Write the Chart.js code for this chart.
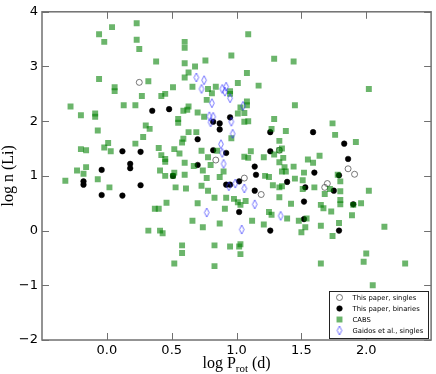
<!DOCTYPE html>
<html>
<head>
<meta charset="utf-8">
<script src="https://cdn.jsdelivr.net/npm/chart.js@4.4.0/dist/chart.umd.min.js"></script>
<style>
  html, body { margin: 0; padding: 0; background: #fff; }
  #wrap { width: 436px; height: 374px; }
</style>
</head>
<body>
<div id="wrap"><canvas id="liChart" width="436" height="374"></canvas></div>
<script>
// log P_rot (d), log n(Li) pairs
const singles = [
    [0.25, 2.71], [0.84, 1.29], [1.06, 0.96], [1.19, 0.66], [1.33, 1.47],
    [1.86, 1.13], [1.91, 1.03], [1.70, 0.86], [1.68, 0.79]
];

const binaries = [
    [0.35, 2.19], [0.48, 2.22], [0.82, 1.99], [0.87, 1.96], [0.87, 1.85], [0.95, 2.07],
    [0.70, 1.67], [0.82, 1.47], [0.92, 1.42], [0.70, 1.20], [1.14, 1.17], [1.15, 1.02],
    [0.92, 0.84], [0.95, 0.84], [1.14, 0.73], [1.02, 0.90], [1.02, 0.34], [1.26, 1.80],
    [1.26, 1.45], [1.39, 0.89], [1.53, 0.79], [1.52, 0.53], [1.52, 0.21], [1.59, 1.80],
    [1.83, 1.59], [1.86, 1.31], [1.60, 1.06], [1.79, 1.01], [1.75, 0.73], [1.90, 0.48],
    [1.26, 0.00], [1.79, 0.00], [0.12, 1.45], [0.26, 1.44], [0.18, 1.22], [0.18, 1.14],
    [-0.04, 1.11], [-0.18, 0.90], [-0.18, 0.84], [0.26, 0.83], [-0.04, 0.65], [0.12, 0.64],
    [0.51, 1.00]
];

const cabs = [
    [0.04, 3.72], [0.23, 3.79], [-0.06, 3.59], [-0.02, 3.45], [0.23, 3.49], [0.25, 3.32],
    [0.38, 3.09], [-0.06, 2.77], [0.06, 2.62], [0.06, 2.55], [0.32, 2.73], [0.51, 2.62],
    [0.27, 2.46], [0.42, 2.46], [0.45, 2.50], [-0.28, 2.27], [-0.20, 2.11], [-0.09, 2.14],
    [-0.09, 2.08], [0.13, 2.29], [0.22, 2.29], [0.55, 2.04], [0.55, 1.97], [1.09, 3.59],
    [0.60, 3.45], [0.60, 3.34], [0.96, 3.20], [0.76, 3.11], [1.29, 3.14], [1.44, 3.09],
    [0.60, 3.06], [0.68, 3.00], [0.63, 2.89], [1.08, 2.88], [0.60, 2.80], [0.66, 2.63],
    [0.84, 2.63], [0.78, 2.59], [0.81, 2.51], [1.01, 2.70], [1.17, 2.65], [0.95, 2.55],
    [0.95, 2.50], [0.77, 2.39], [1.08, 2.36], [1.08, 2.29], [1.45, 2.29], [0.63, 2.27],
    [0.62, 2.21], [0.59, 2.19], [0.70, 2.16], [0.75, 2.08], [1.03, 2.25], [1.01, 2.14],
    [1.06, 2.15], [1.29, 2.04], [1.09, 2.00], [1.06, 1.99], [2.02, 2.59], [-0.07, 1.83],
    [0.30, 1.92], [0.33, 1.86], [0.28, 1.71], [0.22, 1.59], [0.01, 1.60], [-0.02, 1.52],
    [0.03, 1.45], [-0.20, 1.49], [-0.16, 1.47], [0.40, 1.51], [0.52, 1.49], [0.42, 1.38],
    [0.45, 1.31], [0.45, 1.26], [0.56, 1.41], [-0.16, 1.16], [-0.23, 1.10], [-0.18, 1.04],
    [0.41, 1.10], [0.45, 1.00], [0.52, 1.06], [0.51, 1.00], [-0.32, 0.91], [-0.07, 0.94],
    [0.02, 0.79], [0.53, 0.79], [0.46, 0.51], [0.37, 0.40], [0.40, 0.40], [0.63, 1.80],
    [0.69, 1.80], [0.59, 1.68], [0.58, 1.61], [0.73, 1.46], [0.78, 1.34], [0.85, 1.46],
    [0.96, 1.69], [1.11, 1.45], [1.06, 1.35], [1.09, 1.33], [0.60, 1.24], [0.67, 1.18],
    [0.74, 1.10], [0.80, 1.20], [0.90, 1.08], [0.60, 1.02], [0.77, 0.96], [0.87, 0.98],
    [0.61, 0.77], [0.73, 0.82], [0.78, 0.73], [0.83, 0.60], [0.92, 0.60], [0.98, 0.58],
    [1.01, 0.52], [1.03, 0.47], [1.07, 0.54], [0.70, 0.50], [0.91, 0.40], [0.66, 0.18],
    [0.87, 0.13], [1.21, 1.34], [1.29, 1.39], [1.33, 1.47], [1.35, 1.50], [1.38, 1.82],
    [1.33, 1.64], [1.27, 1.86], [1.36, 1.33], [1.33, 1.25], [1.37, 1.16], [1.44, 1.17],
    [1.35, 1.08], [1.38, 1.08], [1.45, 0.95], [1.22, 1.00], [1.25, 0.98], [1.28, 0.83],
    [1.33, 0.79], [1.35, 0.81], [1.33, 0.61], [1.42, 0.49], [1.55, 1.30], [1.52, 1.06],
    [1.25, 0.34], [1.27, 0.29], [1.39, 0.22], [1.48, 0.18], [1.21, 0.11], [1.74, 1.96],
    [1.76, 1.75], [1.92, 1.62], [1.59, 1.24], [1.64, 1.37], [1.51, 0.92], [1.78, 1.02],
    [1.80, 0.90], [1.60, 0.79], [1.51, 0.76], [1.68, 0.67], [1.72, 0.76], [1.80, 0.72],
    [2.02, 0.73], [1.80, 0.56], [1.80, 0.48], [1.65, 0.47], [1.67, 0.41], [1.96, 0.50],
    [1.90, 0.47], [1.73, 0.35], [1.89, 0.28], [1.54, 0.22], [1.79, 0.14], [1.65, 0.09],
    [2.14, 0.07], [1.53, 0.06], [1.50, -0.03], [1.74, -0.10], [0.32, 0.00], [0.41, 0.00],
    [0.43, -0.05], [0.58, -0.27], [0.58, -0.41], [0.52, -0.60], [0.74, 0.06], [0.83, -0.27],
    [0.83, -0.65], [0.95, -0.29], [1.02, -0.29], [1.03, -0.25], [1.03, -0.43], [1.12, 0.18],
    [1.65, -0.60], [2.00, -0.42], [1.98, -0.57], [2.30, -0.60], [2.05, -1.00]
];

const gaidos = [
    [0.69, 2.80], [0.75, 2.75], [0.73, 2.59], [0.89, 2.59], [0.92, 2.63], [0.91, 2.54],
    [0.95, 2.42], [0.81, 2.33], [1.05, 2.28], [0.79, 2.09], [0.82, 2.08], [0.80, 1.98],
    [0.96, 1.99], [0.97, 1.77], [0.88, 1.58], [0.89, 1.42], [0.90, 1.22], [0.99, 0.86],
    [0.94, 0.81], [1.06, 0.77], [1.14, 0.48], [0.77, 0.33], [1.34, 0.27], [1.04, 0.02]
];

const seriesLabels = ['This paper, singles', 'This paper, binaries', 'CABS', 'Gaidos et al., singles'];
const xTicks = [0, 0.5, 1, 1.5, 2];
const yTicks = [-2, -1, 0, 1, 2, 3, 4];

const toXY = arr => arr.map(p => ({ x: p[0], y: p[1] }));

// rombo estrecho tipo marcador 'd' de matplotlib
function makeThinDiamond() {
    const c = document.createElement('canvas');
    c.width = 8;
    c.height = 11;
    const g = c.getContext('2d');
    g.strokeStyle = 'rgba(50,50,255,0.75)';
    g.lineWidth = 0.9;
    g.beginPath();
    g.moveTo(4, 1);
    g.lineTo(6.3, 5.5);
    g.lineTo(4, 10);
    g.lineTo(1.7, 5.5);
    g.closePath();
    g.stroke();
    return c;
}
const diamondImg = makeThinDiamond();

const spineColor = '#707070';

// marco, ticks interiores, leyenda y títulos de ejes
const decorPlugin = {
    id: 'decor',
    afterDraw(chart) {
        const ctx = chart.ctx;
        const area = chart.chartArea;
        const xs = chart.scales.x;
        const ys = chart.scales.y;
        const tickLen = 7;

        ctx.save();
        ctx.strokeStyle = spineColor;
        ctx.lineWidth = 1;
        ctx.beginPath();
        xTicks.forEach(v => {
            const px = Math.round(xs.getPixelForValue(v)) + 0.5;
            ctx.moveTo(px, area.top);
            ctx.lineTo(px, area.top + tickLen);
            ctx.moveTo(px, area.bottom);
            ctx.lineTo(px, area.bottom - tickLen);
        });
        yTicks.forEach(v => {
            const py = Math.round(ys.getPixelForValue(v)) + 0.5;
            ctx.moveTo(area.left, py);
            ctx.lineTo(area.left + tickLen, py);
            ctx.moveTo(area.right, py);
            ctx.lineTo(area.right - tickLen, py);
        });
        ctx.stroke();

        ctx.lineWidth = 1.5;
        ctx.strokeRect(area.left, area.top, area.right - area.left, area.bottom - area.top);

        // leyenda abajo a la derecha
        const box = { left: 329.5, top: 291.5, width: 99, height: 47 };
        ctx.fillStyle = '#fff';
        ctx.fillRect(box.left, box.top, box.width, box.height);
        ctx.strokeStyle = '#222';
        ctx.lineWidth = 1;
        ctx.strokeRect(box.left, box.top, box.width, box.height);

        ctx.font = '6.8px "DejaVu Sans"';
        ctx.textBaseline = 'middle';
        ctx.textAlign = 'left';
        chart.data.datasets.forEach((ds, i) => {
            const cy = box.top + 6 + i * 11;
            const mx = box.left + 10;
            ctx.save();
            ctx.fillStyle = ds.pointBackgroundColor;
            ctx.strokeStyle = ds.pointBorderColor;
            ctx.lineWidth = ds.pointBorderWidth;
            Chart.helpers.drawPoint(ctx, {
                pointStyle: ds.pointStyle,
                radius: ds.pointRadius,
                rotation: 0,
                borderWidth: ds.pointBorderWidth
            }, mx, cy);
            ctx.restore();
            ctx.fillStyle = '#000';
            ctx.fillText(ds.label, box.left + 23, cy + 0.5);
        });

        // título eje x con subíndice
        const cx = (area.left + area.right) / 2;
        const big = '16px "Liberation Serif"';
        const small = '11px "Liberation Serif"';
        ctx.fillStyle = '#000';
        ctx.textBaseline = 'alphabetic';
        ctx.font = big;
        const w1 = ctx.measureText('log P').width;
        const w3 = ctx.measureText(' (d)').width;
        ctx.font = small;
        const w2 = ctx.measureText('rot').width;
        let x0 = cx - (w1 + w2 + w3) / 2;
        const base = 368;
        ctx.font = big;
        ctx.fillText('log P', x0, base);
        ctx.font = small;
        ctx.fillText('rot', x0 + w1, base + 3.5);
        ctx.font = big;
        ctx.fillText(' (d)', x0 + w1 + w2, base);

        // título eje y
        ctx.translate(13, (area.top + area.bottom) / 2);
        ctx.rotate(-Math.PI / 2);
        ctx.textAlign = 'center';
        ctx.fillText('log n (Li)', 0, 0);
        ctx.restore();
    }
};

new Chart(document.getElementById('liChart'), {
    type: 'scatter',
    data: {
        datasets: [
            {
                label: seriesLabels[0],
                data: toXY(singles),
                pointStyle: 'circle',
                pointRadius: 3,
                pointBackgroundColor: 'rgba(255,255,255,0)',
                pointBorderColor: '#555',
                pointBorderWidth: 0.8,
                order: 4
            },
            {
                label: seriesLabels[1],
                data: toXY(binaries),
                pointStyle: 'circle',
                pointRadius: 2.8,
                pointBackgroundColor: '#000',
                pointBorderColor: '#000',
                pointBorderWidth: 0.5,
                order: 3
            },
            {
                label: seriesLabels[2],
                data: toXY(cabs),
                pointStyle: 'rect',
                pointRadius: 4.2,
                pointBackgroundColor: 'rgba(0,128,0,0.58)',
                pointBorderColor: 'rgba(0,128,0,0)',
                pointBorderWidth: 0,
                order: 2
            },
            {
                label: seriesLabels[3],
                data: toXY(gaidos),
                pointStyle: diamondImg,
                pointRadius: 4,
                pointBackgroundColor: 'rgba(0,0,0,0)',
                pointBorderColor: 'rgba(50,50,255,0.75)',
                pointBorderWidth: 0.9,
                order: 1
            }
        ]
    },
    options: {
        responsive: false,
        animation: false,
        events: [],
        layout: { padding: { top: 5, right: 2, left: 0, bottom: 0 } },
        plugins: {
            legend: { display: false },
            tooltip: { enabled: false }
        },
        scales: {
            x: {
                type: 'linear',
                min: -0.5,
                max: 2.5,
                afterBuildTicks: s => { s.ticks = xTicks.map(v => ({ value: v })); },
                afterFit: s => { s.height = 34; },
                grid: { display: false, drawTicks: false },
                border: { display: false },
                ticks: {
                    padding: 3,
                    color: '#000',
                    font: { family: 'DejaVu Sans', size: 13 },
                    maxRotation: 0,
                    callback: v => v.toFixed(1)
                }
            },
            y: {
                type: 'linear',
                min: -2,
                max: 4,
                afterBuildTicks: s => { s.ticks = yTicks.map(v => ({ value: v })); },
                afterFit: s => { s.width = 42; },
                grid: { display: false, drawTicks: false },
                border: { display: false },
                ticks: {
                    padding: 4,
                    color: '#000',
                    font: { family: 'DejaVu Sans', size: 13 },
                    callback: v => (v < 0 ? '\u2212' + Math.abs(v) : String(v))
                }
            }
        }
    },
    plugins: [decorPlugin]
});
</script>
</body>
</html>
